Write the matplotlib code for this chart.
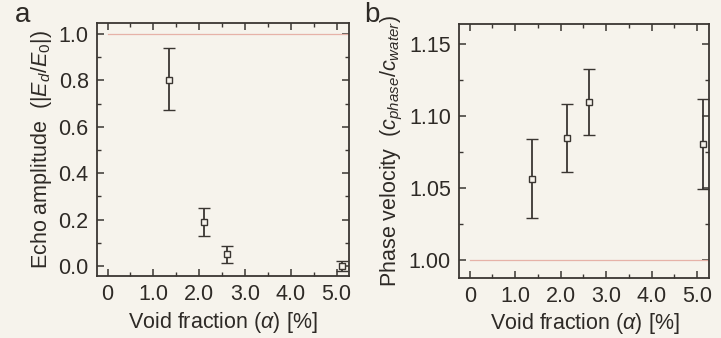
import matplotlib
matplotlib.use("Agg")
import matplotlib.pyplot as plt
from matplotlib.ticker import MultipleLocator

plt.rcParams['font.family'] = ['Liberation Sans', 'DejaVu Sans']
plt.rcParams['mathtext.fontset'] = 'custom'
plt.rcParams['mathtext.rm'] = 'Liberation Sans'
plt.rcParams['mathtext.it'] = 'Liberation Sans:italic'

# Data
void_a = [1.35, 2.11, 2.6, 5.11]
echo_amp = [0.80, 0.19, 0.05, 0.0]
echo_err_up = [0.14, 0.06, 0.035, 0.02]
echo_err_dn = [0.13, 0.06, 0.035, 0.02]

void_b = [1.37, 2.14, 2.62, 5.13]
phase_vel = [1.0563, 1.0849, 1.1094, 1.0808]
phase_err_up = [0.0279, 0.0236, 0.0233, 0.0312]
phase_err_dn = [0.0272, 0.0235, 0.0229, 0.0312]

xticks = [0, 1, 2, 3, 4, 5]
xticklabels = ['0', '1.0', '2.0', '3.0', '4.0', '5.0']

bg = '#f6f3ec'
ink = '#3a3632'
txt = '#2e2a26'
red = '#e6b2a8'
fs = 15.5

fig = plt.figure(figsize=(7.21, 3.38), dpi=100, facecolor=bg)
ax1 = fig.add_axes([0.1345, 0.1834, 0.3495, 0.7486], facecolor=bg)
ax2 = fig.add_axes([0.637, 0.178, 0.347, 0.751], facecolor=bg)

def style(ax):
    for s in ax.spines.values():
        s.set_color(ink)
        s.set_linewidth(1.3)
    ax.tick_params(which='both', direction='in', top=True, right=True,
                   colors=ink, labelcolor=txt, labelsize=fs)
    ax.tick_params(which='major', length=5, width=1.1, pad=6)
    ax.tick_params(which='minor', length=3, width=1.0)
    ax.set_xticks(xticks)
    ax.set_xticklabels(xticklabels)
    ax.xaxis.set_minor_locator(MultipleLocator(0.5))
    ax.set_xlim(-0.23, 5.27)
    ax.set_xlabel(r'Void fraction ($\alpha$) [%]', fontsize=fs, color=txt, labelpad=3)

# Panel a
style(ax1)
ax1.plot([0, 5.27], [1.0, 1.0], color=red, lw=0.9)
ax1.errorbar(void_a, echo_amp, yerr=[echo_err_dn, echo_err_up], fmt='s',
             mfc=bg, mec=ink, ms=5, mew=1.0, ecolor=ink, elinewidth=1.3,
             capsize=4, capthick=1.3)
ax1.set_ylim(-0.043, 1.047)
ax1.set_yticks([0.0, 0.2, 0.4, 0.6, 0.8, 1.0])
ax1.set_yticklabels(['0.0', '0.2', '0.4', '0.6', '0.8', '1.0'])
ax1.yaxis.set_minor_locator(MultipleLocator(0.1))
ax1.set_ylabel(r'Echo amplitude  ($|E_d/E_0|$)', fontsize=fs, color=txt, labelpad=3)
fig.text(0.020, 0.955, 'a', fontsize=20, color=txt, va='center')

# Panel b
style(ax2)
ax2.plot([0, 5.27], [1.0, 1.0], color=red, lw=0.9)
ax2.errorbar(void_b, phase_vel, yerr=[phase_err_dn, phase_err_up], fmt='s',
             mfc=bg, mec=ink, ms=5, mew=1.0, ecolor=ink, elinewidth=1.3,
             capsize=4, capthick=1.3)
ax2.set_ylim(0.988, 1.1636)
ax2.set_yticks([1.00, 1.05, 1.10, 1.15])
ax2.set_yticklabels(['1.00', '1.05', '1.10', '1.15'])
ax2.yaxis.set_minor_locator(MultipleLocator(0.025))
ax2.set_ylabel(r'Phase velocity  ($c_{phase}/c_{water}$)', fontsize=fs, color=txt, labelpad=3)
fig.text(0.505, 0.955, 'b', fontsize=20, color=txt, va='center')

fig.savefig('out.png', dpi=100, facecolor=bg)
